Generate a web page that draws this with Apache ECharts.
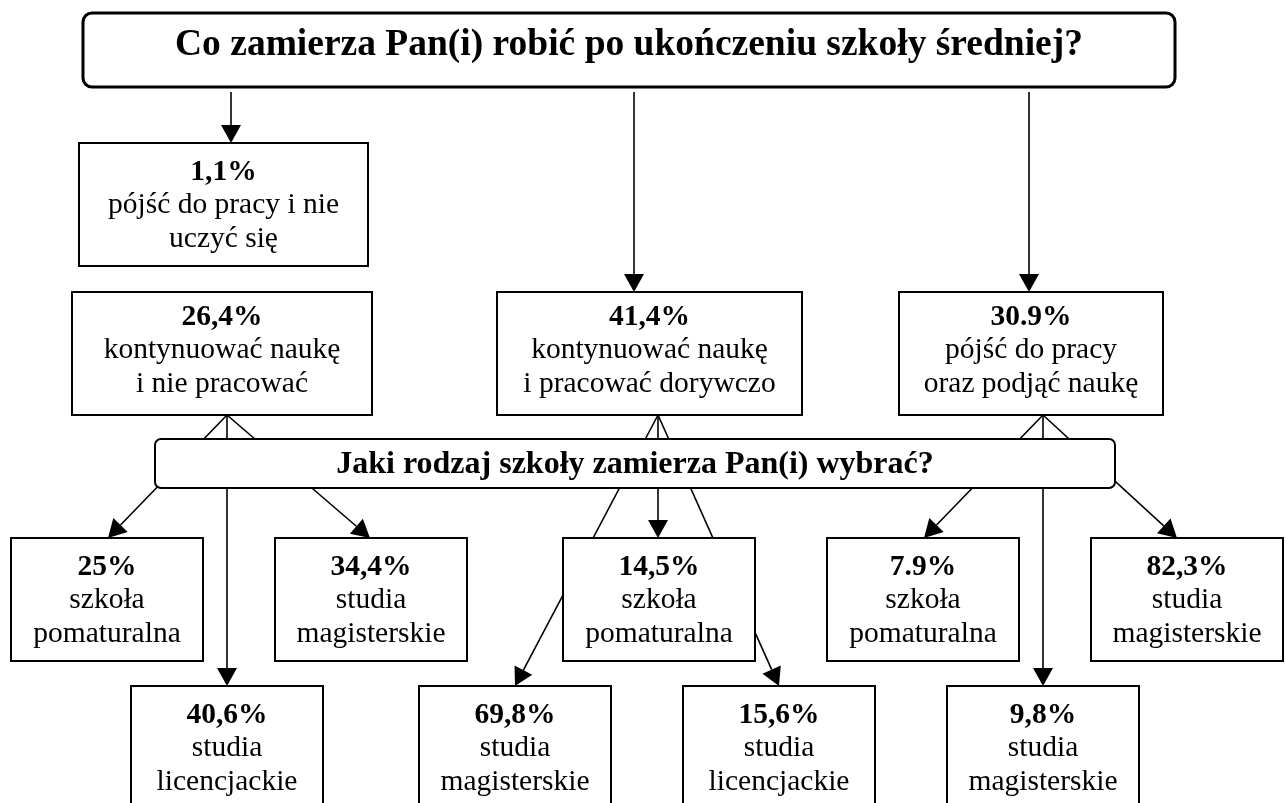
<!DOCTYPE html>
<html><head><meta charset="utf-8">
<script src="https://cdn.jsdelivr.net/npm/echarts@6/dist/echarts.min.js"></script>
<style>html,body{margin:0;padding:0;background:#fff;}#c{width:1286px;height:803px;}</style>
</head><body><div id="c"></div>
<script>
// ---- data (texts and values) ----
const questions = ['Co zamierza Pan(i) robić po ukończeniu szkoły średniej?', 'Jaki rodzaj szkoły zamierza Pan(i) wybrać?'];
const planValues = ['1,1%', '26,4%', '41,4%', '30.9%'];
const planLabels = [
  ['pójść do pracy i nie', 'uczyć się'],
  ['kontynuować naukę', 'i nie pracować'],
  ['kontynuować naukę', 'i pracować dorywczo'],
  ['pójść do pracy', 'oraz podjąć naukę']
];
const schoolValues = ['25%', '40,6%', '34,4%', '69,8%', '14,5%', '15,6%', '7.9%', '9,8%', '82,3%'];
const schoolLabels = [
  ['szkoła', 'pomaturalna'], ['studia', 'licencjackie'], ['studia', 'magisterskie'],
  ['studia', 'magisterskie'], ['szkoła', 'pomaturalna'], ['studia', 'licencjackie'],
  ['szkoła', 'pomaturalna'], ['studia', 'magisterskie'], ['studia', 'magisterskie']
];

// ---- layout (diagram coordinates, axis units) ----
const questionLayout = [
  { rect: [83, 13, 1175, 87], r: 9, lw: 3, size: 37.5, dy: -5 },
  { rect: [155, 439, 1115, 488], r: 6, lw: 2, size: 32, dy: 1 }
];
const planLayout = [
  { rect: [79, 143, 368, 266], dy: 1 },
  { rect: [72, 292, 372, 415], dy: -3 },
  { rect: [497, 292, 802, 415], dy: -3 },
  { rect: [899, 292, 1163, 415], dy: -3 }
];
const schoolLayout = [
  [11, 538, 203, 661], [131, 686, 323, 809], [275, 538, 467, 661],
  [419, 686, 611, 809], [563, 538, 755, 661], [683, 686, 875, 809],
  [827, 538, 1019, 661], [947, 686, 1139, 809], [1091, 538, 1283, 661]
];
const connectorLayout = [
  [231, 92, 231, 143], [634, 92, 634, 292], [1029, 92, 1029, 292],
  [227, 415, 108, 538], [227, 415, 227, 686], [227, 415, 370, 538],
  [658, 415, 515, 686], [658, 415, 658, 538], [658, 415, 779, 686],
  [1043, 415, 924, 538], [1043, 415, 1043, 686], [1043, 415, 1177, 538]
];

const FONT = '"Liberation Serif", "Times New Roman", serif';
const BODY_SIZE = 29.5, BODY_LH = 33.5;

const boxes = [];
boxes.push({ kind: 'q', text: questions[0], ...questionLayout[0] });
planValues.forEach((v, i) => boxes.push({ kind: 'b', value: v, lines: planLabels[i], rect: planLayout[i].rect, dy: planLayout[i].dy, r: 0, lw: 2 }));
schoolValues.forEach((v, i) => boxes.push({ kind: 'b', value: v, lines: schoolLabels[i], rect: schoolLayout[i], dy: 1, r: 0, lw: 2 }));
boxes.push({ kind: 'q', text: questions[1], ...questionLayout[1] });

const boxData = boxes.map(b => [b.rect[0], b.rect[1], b.rect[2], b.rect[3]]);

function boxItem(params, api) {
  const b = boxes[params.dataIndex];
  const p0 = api.coord([api.value(0), api.value(1)]);
  const p1 = api.coord([api.value(2), api.value(3)]);
  const x = Math.min(p0[0], p1[0]), y = Math.min(p0[1], p1[1]);
  const w = Math.abs(p1[0] - p0[0]), h = Math.abs(p1[1] - p0[1]);
  let textStyle;
  if (b.kind === 'q') {
    textStyle = {
      text: b.text, fontFamily: FONT, fontWeight: 'bold', fontSize: b.size, fill: '#000',
      align: 'center', verticalAlign: 'middle'
    };
  } else {
    textStyle = {
      text: '{v|' + b.value + '}\n' + b.lines.map(l => '{t|' + l + '}').join('\n'),
      align: 'center', verticalAlign: 'middle', fill: '#000',
      fontFamily: FONT, fontSize: BODY_SIZE, lineHeight: BODY_LH,
      rich: {
        v: { fontFamily: FONT, fontWeight: 'bold', fontSize: BODY_SIZE, lineHeight: BODY_LH, fill: '#000' },
        t: { fontFamily: FONT, fontWeight: 'normal', fontSize: BODY_SIZE, lineHeight: BODY_LH, fill: '#000' }
      }
    };
  }
  return {
    type: 'group',
    children: [
      { type: 'rect', shape: { x: x, y: y, width: w, height: h, r: b.r }, style: { fill: '#fff', stroke: '#000', lineWidth: b.lw } },
      { type: 'text', x: x + w / 2, y: y + h / 2 + b.dy, style: textStyle }
    ]
  };
}

function connItem(params, api) {
  const a = api.coord([api.value(0), api.value(1)]);
  const b = api.coord([api.value(2), api.value(3)]);
  const dx = b[0] - a[0], dy = b[1] - a[1];
  const len = Math.hypot(dx, dy);
  const ux = dx / len, uy = dy / len;
  const L = 18, W = 10;
  const base = [b[0] - ux * L, b[1] - uy * L];
  return {
    type: 'group',
    children: [
      { type: 'line', shape: { x1: a[0], y1: a[1], x2: base[0], y2: base[1] }, style: { stroke: '#000', lineWidth: 1.6 } },
      { type: 'polygon', shape: { points: [b, [base[0] - uy * W, base[1] + ux * W], [base[0] + uy * W, base[1] - ux * W]] }, style: { fill: '#000' } }
    ]
  };
}

const chart = echarts.init(document.getElementById('c'));
chart.setOption({
  animation: false,
  backgroundColor: '#fff',
  grid: { left: 0, right: 0, top: 0, bottom: 0 },
  xAxis: { type: 'value', min: 0, max: 1286, show: false },
  yAxis: { type: 'value', min: 0, max: 803, inverse: true, show: false },
  series: [
    { type: 'custom', z: 1, renderItem: connItem, data: connectorLayout, encode: { x: [0, 2], y: [1, 3] } },
    { type: 'custom', z: 2, renderItem: boxItem, data: boxData, encode: { x: [0, 2], y: [1, 3] } }
  ]
});
</script>
</body></html>
